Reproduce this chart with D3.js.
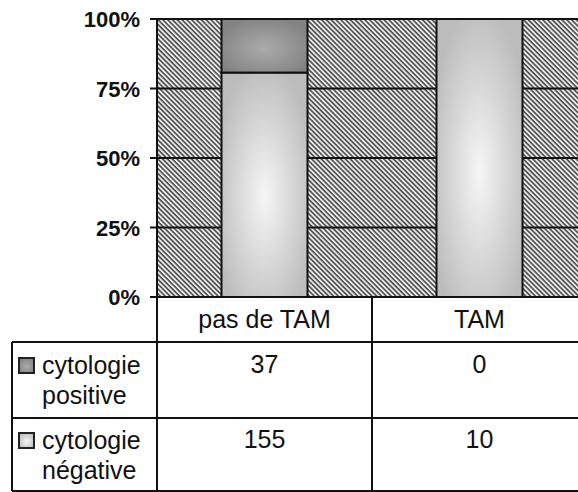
<!DOCTYPE html>
<html>
<head>
<meta charset="utf-8">
<script src="https://cdn.jsdelivr.net/npm/d3@7"></script>
<style>
  body { margin: 0; background: #fff; }
  svg { display: block; }
</style>
</head>
<body>
<svg id="chart"></svg>
<script>
'use strict';
// data
var categories = ['pas de TAM', 'TAM'];
var seriesNames = ['cytologie positive', 'cytologie négative'];
var positive = [37, 0];
var negative = [155, 10];
var yTicks = [0, 0.25, 0.5, 0.75, 1];

var canvasWidth = 578;
var canvasHeight = 492;
var plot = { left: 157, right: 587, top: 19, bottom: 297 };
var table = { left: 12, header: 342, row1: 418, bottom: 491 };

var svg = d3.select('#chart')
    .attr('width', canvasWidth)
    .attr('height', canvasHeight);

var defs = svg.append('defs');

// hatched plot background
var hatch = defs.append('pattern')
    .attr('id', 'hatch')
    .attr('patternUnits', 'userSpaceOnUse')
    .attr('width', 3.4)
    .attr('height', 3.4)
    .attr('patternTransform', 'rotate(45)');
hatch.append('rect').attr('width', 3.4).attr('height', 3.4).attr('fill', '#ebebeb');
hatch.append('rect').attr('width', 3.4).attr('height', 1.6).attr('fill', '#4c4c4c');

// bar fills, grey edges to pale middle like the scan
function grad(id, edge, mid) {
    var g = defs.append('radialGradient')
        .attr('id', id)
        .attr('cx', 0.5).attr('cy', 0.55).attr('r', 0.6);
    g.append('stop').attr('offset', '0%').attr('stop-color', mid);
    g.append('stop').attr('offset', '100%').attr('stop-color', edge);
}
grad('gPos', '#828282', '#ababab');
grad('gNeg', '#bcbcbc', '#f6f6f6');
var fills = ['url(#gPos)', 'url(#gNeg)'];

var data = categories.map(function(c, i) {
    return { cat: c, pos: positive[i], neg: negative[i] };
});
var stack = d3.stack()
    .keys(['neg', 'pos'])
    .offset(d3.stackOffsetExpand);
var layers = stack(data);

var xScale = d3.scaleBand()
    .domain(categories)
    .range([plot.left, plot.right])
    .paddingInner(0.6)
    .paddingOuter(0.3);
var yScale = d3.scaleLinear()
    .domain([0, 1])
    .range([plot.bottom, plot.top]);

// background + gridlines
svg.append('rect')
    .attr('x', plot.left).attr('y', plot.top)
    .attr('width', plot.right - plot.left)
    .attr('height', plot.bottom - plot.top)
    .attr('fill', 'url(#hatch)');

svg.append('g')
    .selectAll('line')
    .data(yTicks)
    .enter()
    .append('line')
    .attr('x1', plot.left - 7)
    .attr('x2', plot.right)
    .attr('y1', function(d) { return yScale(d); })
    .attr('y2', function(d) { return yScale(d); })
    .attr('stroke', '#111')
    .attr('stroke-width', 2);

// bars
svg.append('g')
    .selectAll('g')
    .data(layers)
    .enter()
    .append('g')
    .attr('fill', function(d) { return d.key === 'pos' ? fills[0] : fills[1]; })
    .selectAll('rect')
    .data(function(d) { return d.filter(function(s) { return s[1] > s[0]; }); })
    .enter()
    .append('rect')
    .attr('x', function(d) { return xScale(d.data.cat); })
    .attr('width', xScale.bandwidth())
    .attr('y', function(d) { return yScale(d[1]); })
    .attr('height', function(d) { return yScale(d[0]) - yScale(d[1]); })
    .attr('stroke', '#111')
    .attr('stroke-width', 2);

// y axis labels
svg.append('g')
    .selectAll('text')
    .data(yTicks)
    .enter()
    .append('text')
    .attr('x', 140)
    .attr('y', function(d) { return yScale(d) + 8; })
    .attr('text-anchor', 'end')
    .attr('font-family', 'Liberation Sans, Arial, sans-serif')
    .attr('font-weight', 'bold')
    .attr('font-size', '22px')
    .attr('fill', '#111')
    .text(d3.format('.0%'));

// data table lines
var grid = svg.append('g').attr('stroke', '#111').attr('stroke-width', 2);
grid.append('line')
    .attr('x1', plot.left).attr('x2', plot.left)
    .attr('y1', plot.top).attr('y2', table.bottom);
grid.append('line')
    .attr('x1', plot.left).attr('x2', canvasWidth)
    .attr('y1', plot.top).attr('y2', plot.top);
grid.append('line')
    .attr('x1', table.left).attr('x2', table.left)
    .attr('y1', table.header).attr('y2', table.bottom);
grid.append('line')
    .attr('x1', plot.left + xScale.step()).attr('x2', plot.left + xScale.step())
    .attr('y1', plot.bottom).attr('y2', table.bottom);
[table.header, table.row1, table.bottom].forEach(function(y) {
    grid.append('line')
        .attr('x1', table.left).attr('x2', canvasWidth)
        .attr('y1', y).attr('y2', y);
});

var font = 'Liberation Sans, Arial, sans-serif';
function centre(c) { return xScale(c) + xScale.bandwidth() / 2; }

// header row
svg.append('g')
    .selectAll('text')
    .data(categories)
    .enter()
    .append('text')
    .attr('x', centre)
    .attr('y', 328)
    .attr('text-anchor', 'middle')
    .attr('font-family', font)
    .attr('font-size', '25px')
    .attr('fill', '#111')
    .text(function(d) { return d; });

// value rows
var rows = [positive, negative];
var rowBase = [373, 448];
rows.forEach(function(vals, r) {
    svg.append('g')
        .selectAll('text')
        .data(vals)
        .enter()
        .append('text')
        .attr('x', function(d, i) { return centre(categories[i]); })
        .attr('y', rowBase[r])
        .attr('text-anchor', 'middle')
        .attr('font-family', font)
        .attr('font-size', '25px')
        .attr('fill', '#111')
        .text(function(d) { return d; });
});

// legend keys in the table
seriesNames.forEach(function(name, r) {
    var words = name.split(' ');
    svg.append('rect')
        .attr('x', 19).attr('y', rowBase[r] - 15)
        .attr('width', 15).attr('height', 15)
        .attr('fill', fills[r])
        .attr('stroke', '#222')
        .attr('stroke-width', 2);
    var t = svg.append('text')
        .attr('font-family', font)
        .attr('font-size', '25px')
        .attr('fill', '#111');
    t.append('tspan').attr('x', 42).attr('y', rowBase[r] + 1).text(words[0]);
    t.append('tspan').attr('x', 42).attr('y', rowBase[r] + 31).text(words[1]);
});
</script>
</body>
</html>
